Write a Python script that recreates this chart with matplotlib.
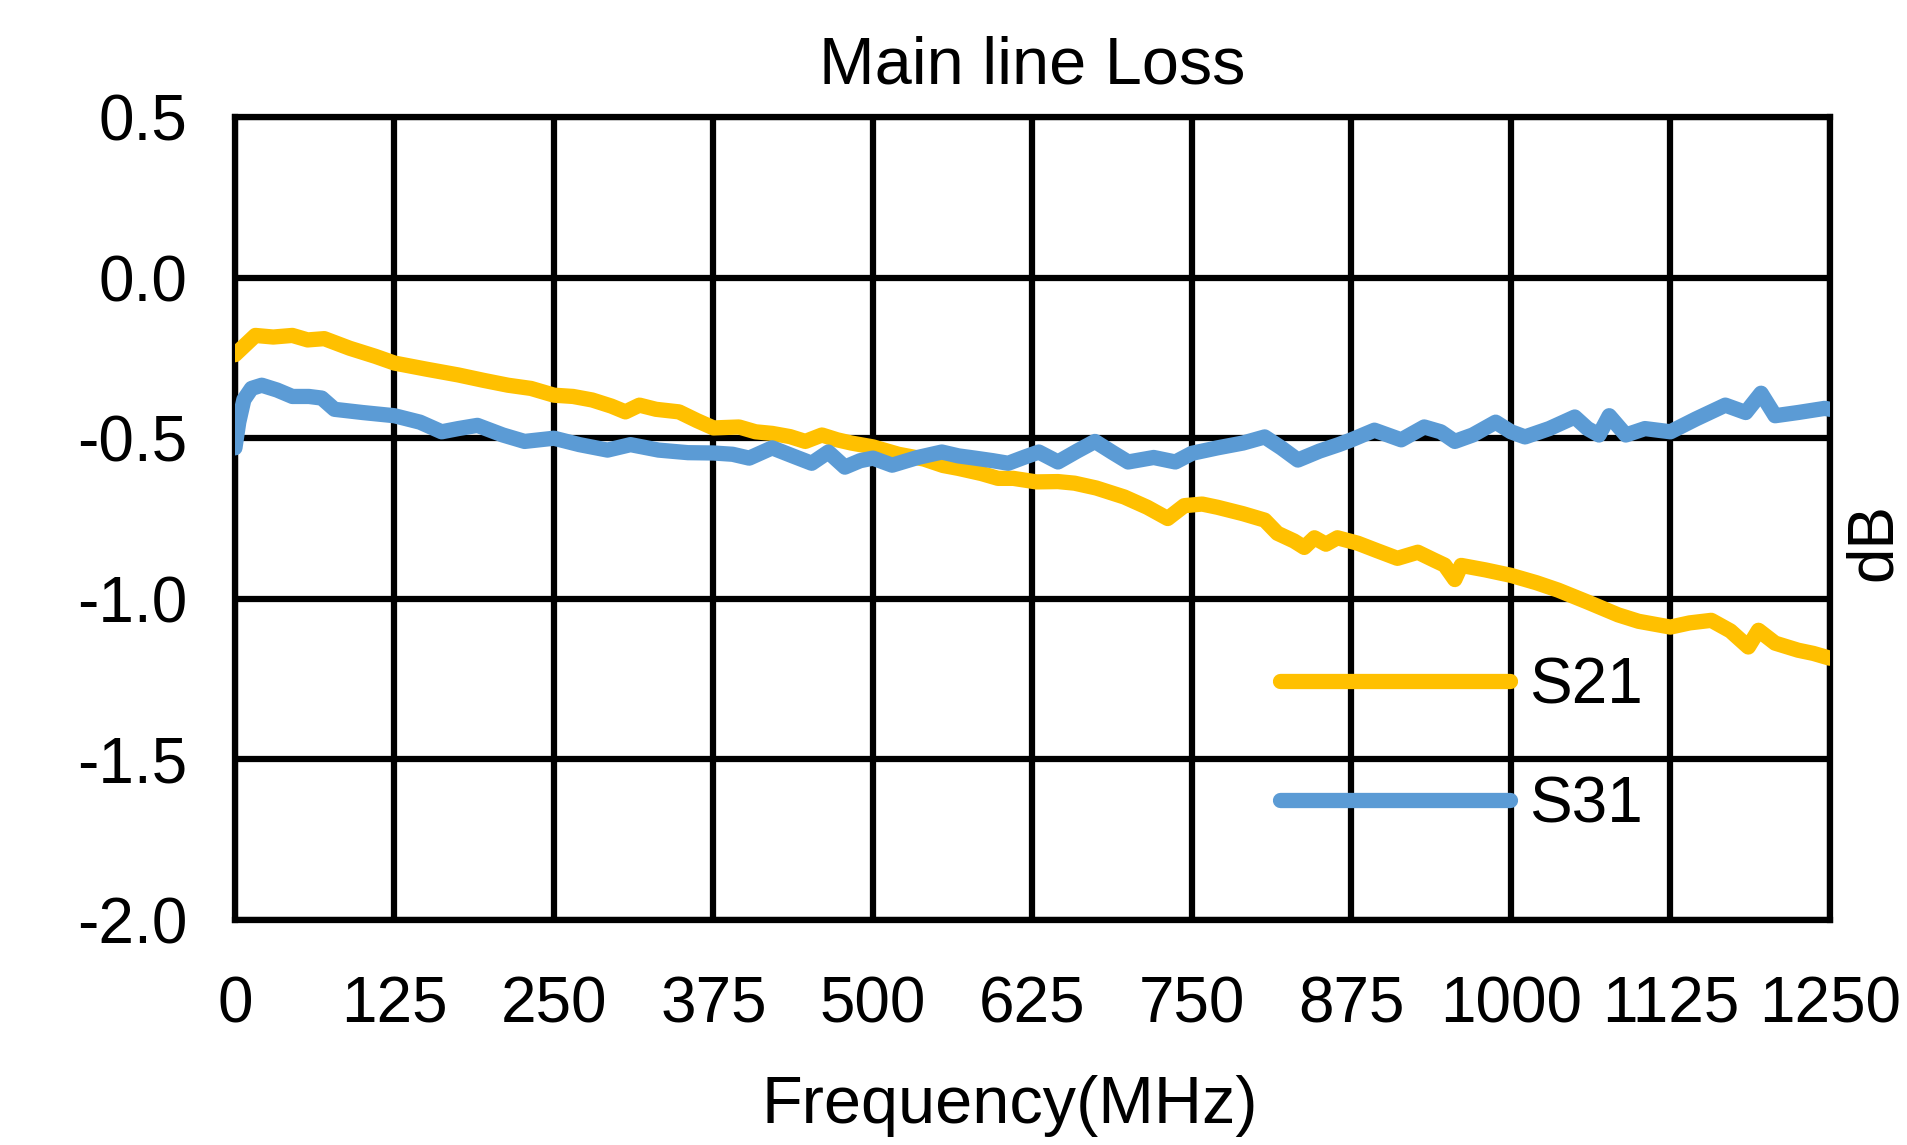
import matplotlib.pyplot as plt

freq_s21 = [0, 8, 16, 30, 45, 57, 70, 90, 110, 125, 150, 175, 195, 214, 232, 250,
            265, 280, 295, 306, 317, 330, 348, 362, 375, 395, 408, 421, 435, 447,
            460, 472, 483, 500, 520, 540, 555, 567, 585, 598, 610, 628, 645, 658,
            675, 697, 715, 731, 744, 758, 770, 790, 807, 817, 830, 838, 846, 855,
            864, 880, 895, 911, 927, 940, 948, 956, 961, 980, 1000, 1020, 1037,
            1060, 1084, 1100, 1125, 1140, 1157, 1172, 1186, 1194, 1207, 1225,
            1237, 1250]
s21 = [-0.24, -0.21, -0.18, -0.185, -0.18, -0.194, -0.19, -0.22, -0.245, -0.266,
       -0.285, -0.303, -0.32, -0.335, -0.345, -0.366, -0.37, -0.381, -0.40, -0.418,
       -0.397, -0.41, -0.418, -0.445, -0.468, -0.465, -0.48, -0.485, -0.495, -0.51,
       -0.49, -0.505, -0.515, -0.527, -0.55, -0.565, -0.585, -0.594, -0.61, -0.625,
       -0.625, -0.636, -0.635, -0.64, -0.655, -0.683, -0.715, -0.75, -0.71, -0.705,
       -0.715, -0.735, -0.755, -0.796, -0.82, -0.84, -0.81, -0.83, -0.81, -0.827,
       -0.85, -0.874, -0.855, -0.88, -0.895, -0.94, -0.896, -0.91, -0.927, -0.95,
       -0.973, -1.01, -1.05, -1.07, -1.088, -1.075, -1.067, -1.10, -1.15, -1.098,
       -1.138, -1.16, -1.17, -1.185]

freq_s31 = [0, 3, 7, 13, 21, 33, 45, 58, 68, 78, 100, 125, 145, 162, 175, 190, 210,
            227, 250, 270, 292, 310, 332, 355, 375, 390, 403, 421, 437, 452, 465,
            478, 490, 500, 515, 535, 554, 567, 580, 594, 606, 618, 630, 645, 660,
            674, 688, 700, 720, 737, 750, 770, 790, 807, 820, 833, 850, 865, 875,
            893, 914, 932, 945, 956, 970, 988, 1000, 1011, 1030, 1050, 1060, 1069,
            1077, 1090, 1105, 1125, 1145, 1168, 1184, 1196, 1207, 1225, 1246, 1250]
s31 = [-0.53, -0.45, -0.38, -0.345, -0.335, -0.35, -0.37, -0.37, -0.375, -0.41,
       -0.42, -0.43, -0.45, -0.48, -0.47, -0.46, -0.49, -0.51, -0.50, -0.52, -0.537,
       -0.52, -0.537, -0.545, -0.546, -0.55, -0.562, -0.53, -0.555, -0.578, -0.543,
       -0.59, -0.57, -0.562, -0.584, -0.56, -0.543, -0.555, -0.562, -0.57, -0.578,
       -0.56, -0.543, -0.574, -0.54, -0.51, -0.545, -0.574, -0.56, -0.574, -0.547,
       -0.53, -0.515, -0.496, -0.53, -0.568, -0.54, -0.52, -0.505, -0.475, -0.505,
       -0.465, -0.48, -0.51, -0.49, -0.45, -0.48, -0.496, -0.47, -0.434, -0.47,
       -0.49, -0.43, -0.49, -0.47, -0.48, -0.44, -0.397, -0.42, -0.36, -0.43,
       -0.42, -0.407, -0.41]

x_ticks = [0, 125, 250, 375, 500, 625, 750, 875, 1000, 1125, 1250]
y_ticks = [0.5, 0.0, -0.5, -1.0, -1.5, -2.0]

plt.rcParams['font.family'] = ['Liberation Sans', 'DejaVu Sans']
fs = 46

fig = plt.figure(figsize=(19.07, 11.45), dpi=100)
ax = fig.add_axes([0.1232, 0.1965, 0.8364, 0.7013])

ax.plot(freq_s21, s21, color='#FFC000', lw=11, solid_joinstyle='round',
        solid_capstyle='round', label='S21', zorder=3)
ax.plot(freq_s31, s31, color='#5B9BD5', lw=11, solid_joinstyle='round',
        solid_capstyle='round', label='S31', zorder=3)

ax.set_xlim(0, 1250)
ax.set_ylim(-2.0, 0.5)
ax.set_xticks(x_ticks)
ax.set_yticks(y_ticks)
ax.set_yticklabels([f'{v:.1f}' for v in y_ticks])
ax.tick_params(length=0, labelsize=fs)
ax.tick_params(axis='x', pad=40)
ax.tick_params(axis='y', pad=34)
ax.grid(True, color='black', lw=4.5, zorder=1)
for sp in ax.spines.values():
    sp.set_linewidth(4.5)
    sp.set_color('black')

ax.set_title('Main line Loss', fontsize=48, pad=24)
ax.set_xlabel('Frequency(MHz)', fontsize=48)
ax.xaxis.set_label_coords(0.486, -0.193)
fig.text(1904 / 1907, 0.527, 'dB', fontsize=fs, rotation=90, ha='right', va='center')

ax.legend(loc='upper left', bbox_to_anchor=(0.619, 0.40), frameon=False,
          fontsize=fs, handlelength=3.6, handletextpad=0.3, labelspacing=0.92)

fig.savefig('out.png', dpi=100)
